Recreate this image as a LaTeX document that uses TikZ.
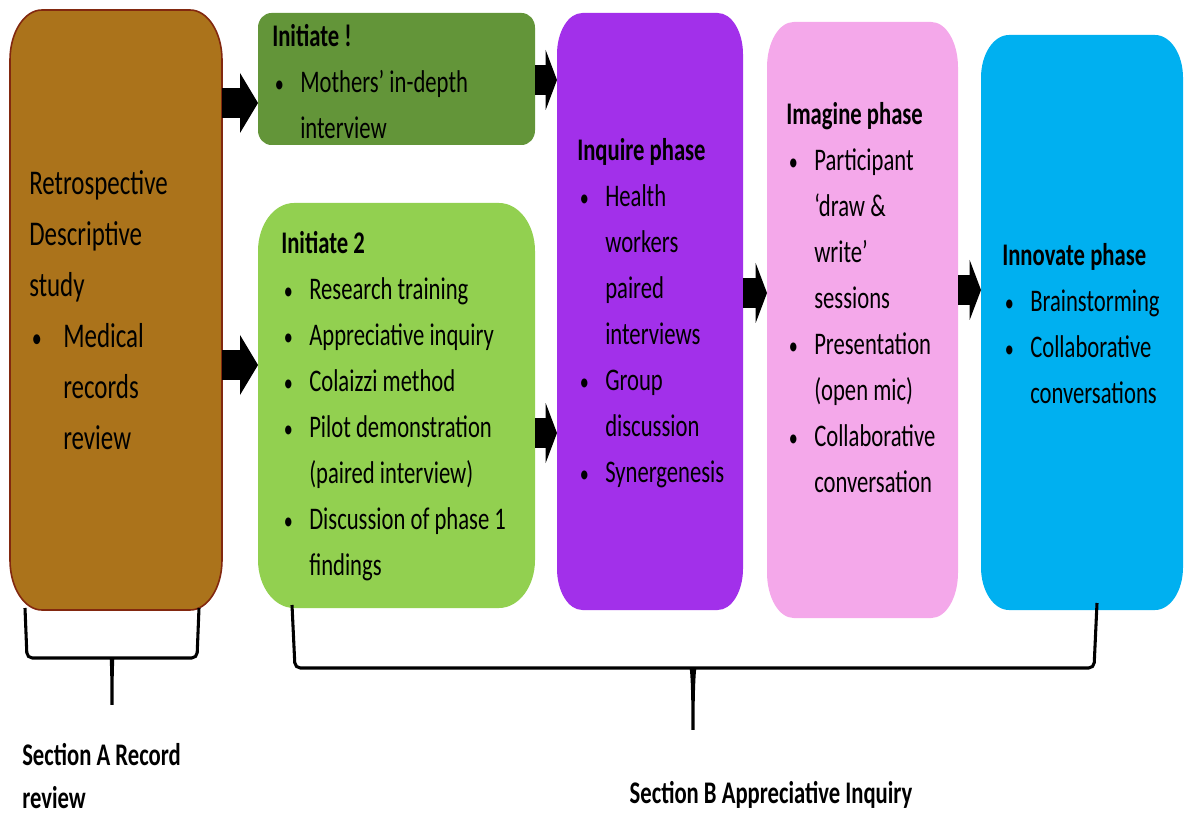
\documentclass[tikz,border=0pt]{standalone}
\usepackage{fontspec}
\setmainfont{Carlito}[FakeStretch=0.72]
\usetikzlibrary{arrows.meta,fit}

\definecolor{brownfill}{RGB}{171,115,27}
\definecolor{brownline}{RGB}{130,40,15}
\definecolor{darkgreen}{RGB}{99,149,57}
\definecolor{lightgreen}{RGB}{146,208,80}
\definecolor{inqpurple}{RGB}{162,48,234}
\definecolor{imgpink}{RGB}{244,168,234}
\definecolor{innblue}{RGB}{0,176,240}

% bullet item with hanging indent (lines broken with \newline)
\newcommand{\itm}[1][21pt]{\par\hangindent=#1\hangafter=1\noindent
  \makebox[#1][l]{\hspace{2pt}\scalebox{0.8}{\textbullet}}}

% oval-cornered fill on a node frame: name, style, x radius, y radius
\newcommand{\phasebox}[4]{%
  \path[#2] ([yshift=-#4]#1.north west)
    arc[start angle=180, end angle=90, x radius=#3, y radius=#4]
    -- ([xshift=-#3]#1.north east)
    arc[start angle=90, end angle=0, x radius=#3, y radius=#4]
    -- ([yshift=#4]#1.south east)
    arc[start angle=0, end angle=-90, x radius=#3, y radius=#4]
    -- ([xshift=#3]#1.south west)
    arc[start angle=270, end angle=180, x radius=#3, y radius=#4]
    -- cycle;}

\tikzset{
  zone/.style={inner sep=0pt, outer sep=0pt},
  boxtext/.style={anchor=west, inner sep=0pt, align=left,
    font=\fontsize{23.6}{34.5}\selectfont,
    execute at begin node={\spaceskip=0pt\xspaceskip=0pt}},
  blk/.style={line width=23pt, -{Triangle[length=#1, width=45pt, line width=0pt]}},
  brace/.style={line width=2.3pt, rounded corners=4pt},
  sectxt/.style={inner sep=0pt, align=left, font=\bfseries\fontsize{23.6}{32.3}\selectfont}
}

\begin{document}
\begin{tikzpicture}[x=0.75pt, y=0.75pt]
\useasboundingbox (0,0) rectangle (1188,-816);

% frames
\node[zone, fit={(10,-10) (222,-610)}] (rec) {};
\node[zone, fit={(258,-13) (535,-145)}] (iniA) {};
\node[zone, fit={(258,-203) (535,-608)}] (iniB) {};
\node[zone, fit={(557,-13) (743,-610)}] (inq) {};
\node[zone, fit={(767,-22) (958,-618)}] (img) {};
\node[zone, fit={(981,-35) (1183,-610)}] (inn) {};

\phasebox{rec}{fill=brownfill, draw=brownline, line width=1.2pt}{24pt}{37.5pt}
\phasebox{iniA}{fill=darkgreen}{10pt}{11pt}
\phasebox{iniB}{fill=lightgreen}{27pt}{36pt}
\phasebox{inq}{fill=inqpurple}{19pt}{31pt}
\phasebox{img}{fill=imgpink}{20pt}{34pt}
\phasebox{inn}{fill=innblue}{21pt}{32pt}

% texts
\node[boxtext, text width=190pt, font=\fontsize{26}{38.3}\selectfont] (recT) at (29,-310)
  {Retrospective\newline Descriptive\newline study\itm[25.5pt]Medical\newline records\newline review\par};
\node[boxtext, text width=200pt] (iniAT) at (272,-82)
  {\textbf{Initiate !}\itm Mothers’ in-depth\newline interview\par};
\node[boxtext, text width=200pt] (iniBT) at (281,-406)
  {\textbf{Initiate 2}\itm Research training\itm Appreciative inquiry\itm Colaizzi method\itm Pilot demonstration\newline (paired interview)\itm Discussion of phase 1\newline findings\par};
\node[boxtext, text width=150pt] (inqT) at (577,-313)
  {\textbf{Inquire phase}\itm Health\newline workers\newline paired\newline interviews\itm Group\newline discussion\itm Synergenesis\par};
\node[boxtext, text width=150pt] (imgT) at (786,-298)
  {\textbf{Imagine phase}\itm Participant\newline ‘draw \&\newline write’\newline sessions\itm Presentation\newline (open mic)\itm Collaborative\newline conversation\par};
\node[boxtext, text width=150pt] (innT) at (1002,-324)
  {\textbf{Innovate phase}\itm Brainstorming\itm Collaborative\newline conversations\par};

% block arrows
\draw[blk=13.5pt] (rec.east |- 0,-103) -- (iniA.west |- 0,-103);
\draw[blk=13.5pt] (rec.east |- 0,-365) -- (iniB.west |- 0,-365);
\draw[blk=8.5pt] (iniA.east |- 0,-80) -- (inq.west |- 0,-80);
\draw[blk=8.5pt] (iniB.east |- 0,-433) -- (inq.west |- 0,-433);
\draw[blk=8.5pt] (inq.east |- 0,-293) -- (img.west |- 0,-293);
\draw[blk=8.5pt] (img.east |- 0,-290) -- (inn.west |- 0,-290);

% braces
\draw[brace] (25,-608) -- (27,-658) -- (106,-658) .. controls (111,-658) and (112,-665) .. (112,-708)
  .. controls (112,-665) and (113,-658) .. (118,-658) -- (197,-658) -- (199,-608);
\draw[brace] (292,-605) -- (295,-668) -- (686,-668) .. controls (691,-668) and (693,-675) .. (693,-733)
  .. controls (693,-675) and (695,-668) .. (700,-668) -- (1094,-668) -- (1097,-603);

\node[sectxt, anchor=west] (secA) at (22,-776) {Section A Record\\review};
\node[sectxt] (secB) at (771,-795) {Section B Appreciative Inquiry};
\end{tikzpicture}
\end{document}
